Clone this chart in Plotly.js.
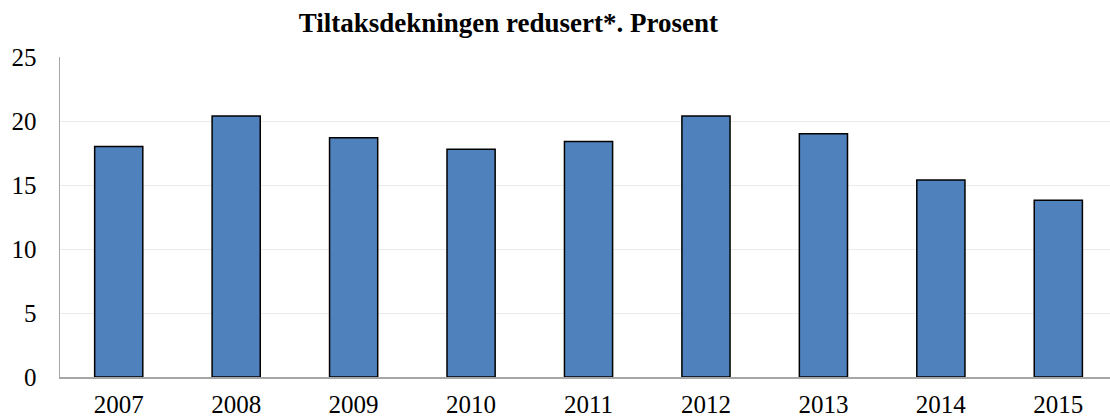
<!DOCTYPE html>
<html>
<head>
<meta charset="utf-8">
<script src="https://cdn.plot.ly/plotly-3.0.1.min.js"></script>
<style>
  html, body { margin: 0; padding: 0; background: white; }
  #chart { width: 1110px; height: 419px; }
</style>
</head>
<body>
<div id="chart"></div>
<script>
const years = ['2007', '2008', '2009', '2010', '2011', '2012', '2013', '2014', '2015']
const coverage = [18.0, 20.4, 18.7, 17.8, 18.4, 20.4, 19.0, 15.4, 13.8]
const y_ticks = [0, 5, 10, 15, 20, 25]
const chart_title = 'Tiltaksdekningen redusert*. Prosent'

const serif = 'Liberation Serif, Times New Roman, serif'

let trace = {
    x: years,
    y: coverage,
    type: 'bar',
    width: 0.41,
    marker: {
        color: '#4f81bd',
        line: { color: '#000000', width: 1.5 }
    },
    hoverinfo: 'none'
}

let layout = {
    width: 1110,
    height: 419,
    margin: { l: 60, r: 0, t: 57, b: 42 },
    paper_bgcolor: 'white',
    plot_bgcolor: 'white',
    showlegend: false,
    title: {
        text: '<b>' + chart_title + '</b>',
        font: { family: serif, size: 27, color: '#000000' },
        x: 0.458, xanchor: 'center', xref: 'container',
        y: 0.945, yanchor: 'middle', yref: 'container'
    },
    xaxis: {
        type: 'category',
        range: [-0.5, 8.44],
        showgrid: false,
        showline: true,
        linecolor: '#a6a6a6',
        linewidth: 1.5,
        ticks: '',
        ticklabelstandoff: 4,
        tickfont: { family: serif, size: 25, color: '#000000' },
        fixedrange: true
    },
    yaxis: {
        range: [0, 25],
        tickvals: y_ticks,
        showgrid: true,
        gridcolor: '#ebebeb',
        gridwidth: 1,
        zeroline: false,
        showline: true,
        linecolor: '#a6a6a6',
        linewidth: 1.5,
        ticks: '',
        ticklabelstandoff: 17,
        tickfont: { family: serif, size: 25, color: '#000000' },
        fixedrange: true
    }
}

Plotly.newPlot('chart', [trace], layout, { displayModeBar: false, staticPlot: true })
</script>
</body>
</html>
